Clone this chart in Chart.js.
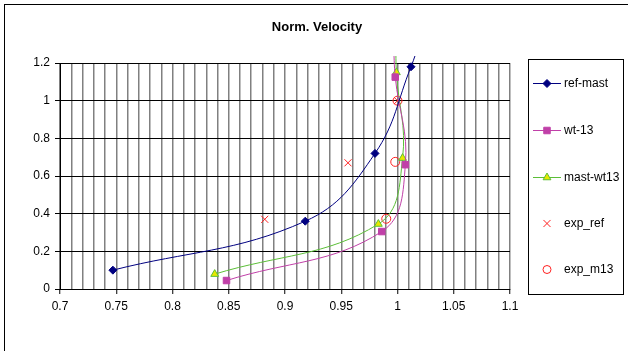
<!DOCTYPE html>
<html>
<head>
<meta charset="utf-8">
<script src="https://cdn.jsdelivr.net/npm/chart.js@4.4.1/dist/chart.umd.min.js"></script>
<style>
  html, body { margin: 0; padding: 0; background: #fff; }
  #wrap { width: 628px; height: 351px; position: relative; }
</style>
</head>
<body>
<div id="wrap"><canvas id="chart"></canvas></div>
<script>
// ---- data ----
const chartTitle = 'Norm. Velocity';
const seriesNames = ['ref-mast', 'wt-13', 'mast-wt13', 'exp_ref', 'exp_m13'];

// last point of each line series sits above the axis top (line leaves the plot)
const refMastX = [0.747, 0.918, 0.980, 1.012, 1.019];
const refMastY = [0.10, 0.36, 0.72, 1.18, 1.30];
const wt13X = [0.848, 0.986, 1.007, 0.998, 0.9965];
const wt13Y = [0.045, 0.305, 0.66, 1.125, 1.30];
const mastWt13X = [0.8375, 0.983, 1.0045, 0.999, 0.9985];
const mastWt13Y = [0.079, 0.345, 0.695, 1.15, 1.30];
const expRefX = [0.882, 0.956, 1.0];
const expRefY = [0.37, 0.67, 1.0];
const expM13X = [0.99, 0.998, 1.0];
const expM13Y = [0.373, 0.675, 1.0];

const xTickLabels = ['0.7', '0.75', '0.8', '0.85', '0.9', '0.95', '1', '1.05', '1.1'];
const yTickLabels = ['0', '0.2', '0.4', '0.6', '0.8', '1', '1.2'];

const FONT = '"Liberation Sans", Arial, sans-serif';

function toPoints(xs, ys) {
  return xs.map((x, i) => ({ x: x, y: ys[i] }));
}

// hide markers of the points that are off the top of the axis
function radiusFor(r) {
  return ctx => (ctx.raw && ctx.raw.y > 1.2 ? 0 : r);
}

function isMajorX(v) {
  return Math.abs(v * 20 - Math.round(v * 20)) < 1e-6;
}

function labelFor(list, v) {
  const hit = list.find(s => Math.abs(parseFloat(s) - v) < 1e-6);
  return hit === undefined ? '' : hit;
}

function drawMarker(ctx, style, x, y, r, stroke, fill) {
  ctx.save();
  ctx.strokeStyle = stroke;
  ctx.fillStyle = fill;
  ctx.lineWidth = 1;
  ctx.beginPath();
  if (style === 'rectRot') {
    ctx.moveTo(x, y - r); ctx.lineTo(x + r, y); ctx.lineTo(x, y + r); ctx.lineTo(x - r, y);
    ctx.closePath(); ctx.fill(); ctx.stroke();
  } else if (style === 'rect') {
    const s = r * Math.SQRT1_2;
    ctx.rect(x - s, y - s, 2 * s, 2 * s); ctx.fill(); ctx.stroke();
  } else if (style === 'triangle') {
    ctx.moveTo(x, y - r); ctx.lineTo(x + r * 0.866, y + r * 0.5); ctx.lineTo(x - r * 0.866, y + r * 0.5);
    ctx.closePath(); ctx.fill(); ctx.stroke();
  } else if (style === 'crossRot') {
    const s = r * Math.SQRT1_2;
    ctx.moveTo(x - s, y - s); ctx.lineTo(x + s, y + s);
    ctx.moveTo(x + s, y - s); ctx.lineTo(x - s, y + s);
    ctx.stroke();
  } else if (style === 'circle') {
    ctx.arc(x, y, r, 0, Math.PI * 2); ctx.stroke();
  }
  ctx.restore();
}

// title, outer frame and the boxed legend (Excel style)
const excelDecor = {
  id: 'excelDecor',
  afterDraw(chart) {
    const ctx = chart.ctx;
    ctx.save();
    ctx.strokeStyle = '#000';
    ctx.lineWidth = 1;
    ctx.strokeRect(4.5, 4.5, 700, 700);

    ctx.fillStyle = '#000';
    ctx.font = 'bold 13px ' + FONT;
    ctx.textAlign = 'center';
    ctx.textBaseline = 'middle';
    ctx.fillText(chartTitle, 317, 27);

    ctx.strokeRect(528.5, 59.5, 95, 235);
    const rows = [83, 130, 177, 223, 269];
    ctx.font = '12px ' + FONT;
    ctx.textAlign = 'left';
    chart.data.datasets.forEach((ds, i) => {
      const y = rows[i];
      if (ds.showLine) {
        ctx.beginPath();
        ctx.strokeStyle = ds.borderColor;
        ctx.moveTo(533, y + 0.5);
        ctx.lineTo(561, y + 0.5);
        ctx.stroke();
      }
      drawMarker(ctx, ds.pointStyle, 547, y + 0.5, ds.legendRadius,
        ds.pointBorderColor, ds.pointBackgroundColor);
      ctx.fillStyle = '#000';
      ctx.fillText(ds.label, 564, y + 1);
    });
    ctx.restore();
  }
};

const datasets = [
  {
    label: seriesNames[0],
    data: toPoints(refMastX, refMastY),
    showLine: true,
    tension: 0.4,
    borderColor: '#000080',
    borderWidth: 1,
    pointStyle: 'rectRot',
    pointRadius: radiusFor(4),
    legendRadius: 4,
    pointBorderColor: '#000080',
    pointBackgroundColor: '#000080',
    clip: { left: 5, top: 7, right: 5, bottom: 5 }
  },
  {
    label: seriesNames[1],
    data: toPoints(wt13X, wt13Y),
    showLine: true,
    tension: 0.4,
    borderColor: '#c040a8',
    borderWidth: 1,
    pointStyle: 'rect',
    pointRadius: radiusFor(4.6),
    legendRadius: 4.6,
    pointBorderColor: '#c040a8',
    pointBackgroundColor: '#c040a8',
    clip: { left: 5, top: 7, right: 5, bottom: 5 }
  },
  {
    label: seriesNames[2],
    data: toPoints(mastWt13X, mastWt13Y),
    showLine: true,
    tension: 0.4,
    borderColor: '#5cbf38',
    borderWidth: 1,
    pointStyle: 'triangle',
    pointRadius: radiusFor(4.5),
    legendRadius: 4.5,
    pointBorderColor: '#5cbf38',
    pointBackgroundColor: '#e8e800',
    clip: { left: 5, top: 7, right: 5, bottom: 5 }
  },
  {
    label: seriesNames[3],
    data: toPoints(expRefX, expRefY),
    showLine: false,
    pointStyle: 'crossRot',
    pointRadius: 5,
    legendRadius: 5,
    pointBorderColor: '#ff2020',
    pointBackgroundColor: '#ff2020',
    pointBorderWidth: 1
  },
  {
    label: seriesNames[4],
    data: toPoints(expM13X, expM13Y),
    showLine: false,
    pointStyle: 'circle',
    pointRadius: 4.5,
    legendRadius: 4,
    pointBorderColor: '#ff2020',
    pointBackgroundColor: 'rgba(0,0,0,0)',
    pointBorderWidth: 1
  }
];

new Chart(document.getElementById('chart'), {
  type: 'scatter',
  data: { datasets: datasets },
  plugins: [excelDecor],
  options: {
    responsive: true,
    maintainAspectRatio: false,
    animation: false,
    events: [],
    layout: { padding: { left: 0, top: 63, right: 118, bottom: 37 } },
    plugins: {
      legend: { display: false },
      title: { display: false },
      tooltip: { enabled: false }
    },
    scales: {
      x: {
        type: 'linear',
        min: 0.7,
        max: 1.1,
        afterFit: scale => { scale.height = 25; },
        ticks: {
          stepSize: 0.01,
          autoSkip: false,
          maxRotation: 0,
          padding: 5,
          color: '#000',
          font: { family: FONT, size: 12 },
          callback: v => (isMajorX(v) ? labelFor(xTickLabels, v) : '')
        },
        grid: {
          color: '#808080',
          lineWidth: 1.5,
          tickLength: 5,
          tickWidth: 1,
          tickColor: ctx => (ctx.tick && isMajorX(ctx.tick.value) ? '#000' : 'rgba(0,0,0,0)')
        },
        border: { display: true, color: '#000', width: 1 }
      },
      y: {
        type: 'linear',
        min: 0,
        max: 1.2,
        afterFit: scale => { scale.width = 60; },
        ticks: {
          stepSize: 0.2,
          padding: 5,
          color: '#000',
          font: { family: FONT, size: 12 },
          callback: v => labelFor(yTickLabels, v)
        },
        grid: {
          color: '#000',
          lineWidth: 1,
          tickLength: 5,
          tickColor: '#000'
        },
        border: { display: true, color: '#000', width: 1 }
      }
    }
  }
});
</script>
</body>
</html>
